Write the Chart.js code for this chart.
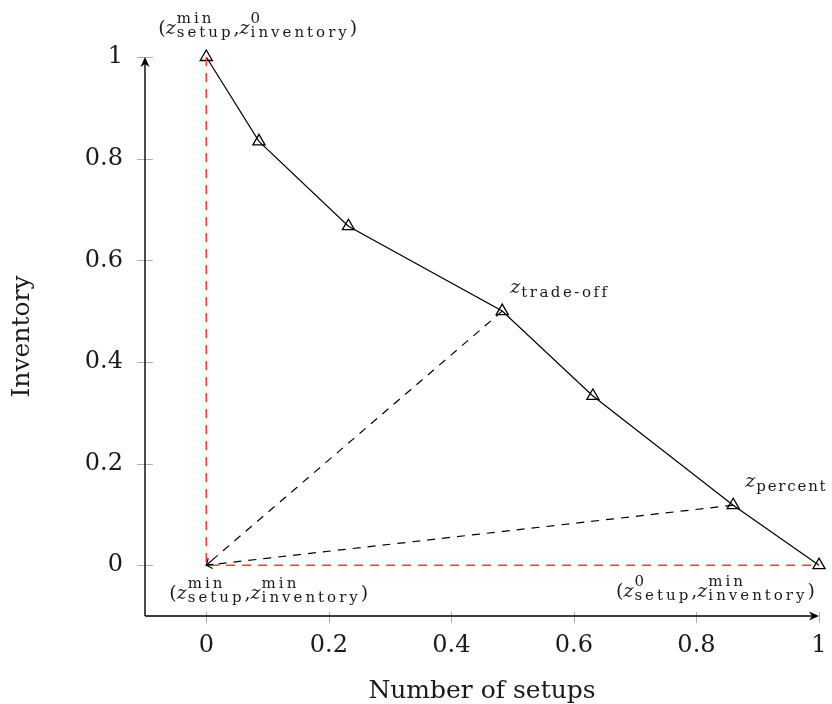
<!DOCTYPE html>
<html>
<head>
<meta charset="utf-8">
<script src="https://cdn.jsdelivr.net/npm/chart.js@4.4.1/dist/chart.umd.min.js"></script>
<style>
    html, body { margin: 0; padding: 0; background: #fff; }
    #wrap { width: 832px; height: 704px; position: relative; }
</style>
</head>
<body>
<div id="wrap"><canvas id="chart"></canvas></div>
<script>
// Pareto front (normalised)
const setups = [0, 0.086, 0.232, 0.483, 0.631, 0.86, 1];
const inventory = [1, 0.834, 0.667, 0.5, 0.333, 0.118, 0];

// dashed rays towards the ideal point
const tradeOffX = [0.483, 0];
const tradeOffY = [0.5, 0];
const percentX = [0.86, 0];
const percentY = [0.118, 0];

// red bounds
const boundX = [0, 0, 1];
const boundY = [1, 0, 0];

const xTicks = [0, 0.2, 0.4, 0.6, 0.8, 1];
const yTicks = [0, 0.2, 0.4, 0.6, 0.8, 1];

const FONT = '"DejaVu Serif", serif';
const MAIN_FONT = '19px ' + FONT;
const MAIN_ITALIC = 'italic 19px ' + FONT;
const SCRIPT_FONT = '15px ' + FONT;

// point labels, anchored to a data point
const notes = [
    { x: 0, y: 1, dx: -48, dy: -23, sp: 3, parts: [{ t: '(' }, { t: 'z', i: true }, { sup: 'min', sub: 'setup' }, { t: ',' }, { t: 'z', i: true }, { sup: '0', sub: 'inventory' }, { t: ')' }] },
    { x: 0, y: 0, dx: -37, dy: 34, sp: 3, parts: [{ t: '(' }, { t: 'z', i: true }, { sup: 'min', sub: 'setup' }, { t: ',' }, { t: 'z', i: true }, { sup: 'min', sub: 'inventory' }, { t: ')' }] },
    { x: 1, y: 0, dx: -203, dy: 32, sp: 3, parts: [{ t: '(' }, { t: 'z', i: true }, { sup: '0', sub: 'setup' }, { t: ',' }, { t: 'z', i: true }, { sup: 'min', sub: 'inventory' }, { t: ')' }] },
    { x: tradeOffX[0], y: tradeOffY[0], dx: 8, dy: -18, sp: 2.5, parts: [{ t: 'z', i: true }, { sub: 'trade-off' }] },
    { x: percentX[0], y: percentY[0], dx: 12, dy: -18, sp: 1.8, parts: [{ t: 'z', i: true }, { sub: 'percent' }] }
];

const toPoints = (xs, ys) => xs.map((x, i) => ({ x, y: ys[i] }));

function drawMath(ctx, x, y, parts, sp) {
    let cx = x;
    parts.forEach(p => {
        if (p.sup !== undefined || p.sub !== undefined) {
            ctx.font = SCRIPT_FONT;
            ctx.letterSpacing = sp + 'px';
            let w = 0;
            if (p.sup !== undefined) {
                ctx.fillText(p.sup, cx, y - 11);
                w = Math.max(w, ctx.measureText(p.sup).width);
            }
            if (p.sub !== undefined) {
                ctx.fillText(p.sub, cx, y + (p.sup !== undefined ? 3 : 4));
                w = Math.max(w, ctx.measureText(p.sub).width);
            }
            ctx.letterSpacing = '0px';
            cx += w;
        } else {
            ctx.font = p.i ? MAIN_ITALIC : MAIN_FONT;
            ctx.fillText(p.t, cx, y);
            cx += ctx.measureText(p.t).width + (p.i ? 1 : 0);
        }
    });
}

function drawArrow(ctx, x, y, angle, len, half) {
    ctx.save();
    ctx.translate(x, y);
    ctx.rotate(angle);
    ctx.beginPath();
    ctx.moveTo(0, 0);
    ctx.lineTo(-len, -half);
    ctx.lineTo(-len * 0.7, 0);
    ctx.lineTo(-len, half);
    ctx.closePath();
    ctx.fill();
    ctx.restore();
}

function drawOpenTip(ctx, x, y, angle) {
    ctx.save();
    ctx.translate(x, y);
    ctx.rotate(angle);
    ctx.beginPath();
    ctx.moveTo(-6, -4);
    ctx.lineTo(0, 0);
    ctx.lineTo(-6, 4);
    ctx.stroke();
    ctx.restore();
}

// axes with arrows, crossing ticks, ray tips and labels
const decor = {
    id: 'decor',
    afterDatasetsDraw(chart) {
        const ctx = chart.ctx;
        const xs = chart.scales.x;
        const ys = chart.scales.y;
        const left = chart.chartArea.left;
        const bottom = chart.chartArea.bottom;
        const xEnd = xs.getPixelForValue(1);
        const yEnd = ys.getPixelForValue(1);

        ctx.save();
        ctx.strokeStyle = '#b0b0b0';
        ctx.lineWidth = 1;
        xs.ticks.forEach(t => {
            const px = Math.round(xs.getPixelForValue(t.value)) + 0.5;
            ctx.beginPath();
            ctx.moveTo(px, bottom - 4);
            ctx.lineTo(px, bottom + 7);
            ctx.stroke();
        });
        ys.ticks.forEach(t => {
            const py = Math.round(ys.getPixelForValue(t.value)) + 0.5;
            ctx.beginPath();
            ctx.moveTo(left - 8, py);
            ctx.lineTo(left + 8, py);
            ctx.stroke();
        });

        ctx.strokeStyle = '#000';
        ctx.fillStyle = '#000';
        ctx.lineWidth = 1.4;
        ctx.beginPath();
        ctx.moveTo(left, bottom);
        ctx.lineTo(xEnd - 3, bottom);
        ctx.moveTo(left, bottom);
        ctx.lineTo(left, yEnd + 3);
        ctx.stroke();
        drawArrow(ctx, xEnd, bottom, 0, 10, 4.5);
        drawArrow(ctx, left, yEnd, -Math.PI / 2, 10, 4.5);

        // tips of the dashed rays at the ideal point
        ctx.lineWidth = 1.2;
        const ox = xs.getPixelForValue(0);
        const oy = ys.getPixelForValue(0);
        [[tradeOffX, tradeOffY], [percentX, percentY]].forEach(([rx, ry]) => {
            const sx = xs.getPixelForValue(rx[0]);
            const sy = ys.getPixelForValue(ry[0]);
            drawOpenTip(ctx, ox, oy, Math.atan2(oy - sy, ox - sx));
        });

        ctx.textAlign = 'left';
        ctx.textBaseline = 'alphabetic';
        ctx.fillStyle = '#1a1a1a';
        notes.forEach(n => {
            drawMath(ctx, xs.getPixelForValue(n.x) + n.dx, ys.getPixelForValue(n.y) + n.dy, n.parts, n.sp);
        });
        ctx.restore();
    }
};

const ctx = document.getElementById('chart').getContext('2d');
new Chart(ctx, {
    type: 'scatter',
    data: {
        datasets: [
            {
                data: toPoints(setups, inventory),
                showLine: true,
                borderColor: '#000',
                borderWidth: 1.2,
                pointStyle: 'triangle',
                pointRadius: 7,
                pointBorderWidth: 1.3,
                pointBorderColor: '#000',
                pointBackgroundColor: 'rgba(0,0,0,0)',
                clip: false,
                order: 1
            },
            {
                data: toPoints(tradeOffX, tradeOffY),
                showLine: true,
                borderColor: '#000',
                borderWidth: 1.2,
                borderDash: [8, 7],
                pointRadius: 0,
                clip: false,
                order: 2
            },
            {
                data: toPoints(percentX, percentY),
                showLine: true,
                borderColor: '#000',
                borderWidth: 1.2,
                borderDash: [8, 7],
                pointRadius: 0,
                clip: false,
                order: 2
            },
            {
                data: toPoints(boundX, boundY),
                showLine: true,
                borderColor: '#ff3838',
                borderWidth: 1.6,
                borderDash: [9, 7],
                pointRadius: 0,
                clip: false,
                order: 0
            }
        ]
    },
    options: {
        responsive: true,
        maintainAspectRatio: false,
        animation: false,
        layout: { padding: { top: 57, right: 13, left: 0, bottom: 0 } },
        plugins: {
            legend: { display: false },
            tooltip: { enabled: false }
        },
        scales: {
            x: {
                type: 'linear',
                min: -0.1,
                max: 1,
                grid: { display: false, drawTicks: false },
                border: { display: false },
                afterBuildTicks: s => { s.ticks = xTicks.map(v => ({ value: v })); },
                afterFit: s => { s.height = 88; s.paddingLeft = 0; s.paddingRight = 0; },
                ticks: {
                    padding: 15,
                    maxRotation: 0,
                    color: '#1a1a1a',
                    font: { family: FONT, size: 24 },
                    callback: v => String(v)
                },
                title: {
                    display: true,
                    text: 'Number of setups',
                    color: '#1a1a1a',
                    font: { family: FONT, size: 25, lineHeight: 1 },
                    padding: { top: 0, bottom: 0 }
                }
            },
            y: {
                type: 'linear',
                min: -0.1,
                max: 1,
                grid: { display: false, drawTicks: false },
                border: { display: false },
                afterBuildTicks: s => { s.ticks = yTicks.map(v => ({ value: v })); },
                afterFit: s => { s.width = 145; s.paddingTop = 0; s.paddingBottom = 0; },
                ticks: {
                    padding: 22,
                    color: '#1a1a1a',
                    font: { family: FONT, size: 24 },
                    callback: v => String(v)
                },
                title: {
                    display: true,
                    text: 'Inventory',
                    color: '#1a1a1a',
                    font: { family: FONT, size: 25, lineHeight: 1 },
                    padding: { top: 10, bottom: 0 }
                }
            }
        }
    },
    plugins: [decor]
});
</script>
</body>
</html>
